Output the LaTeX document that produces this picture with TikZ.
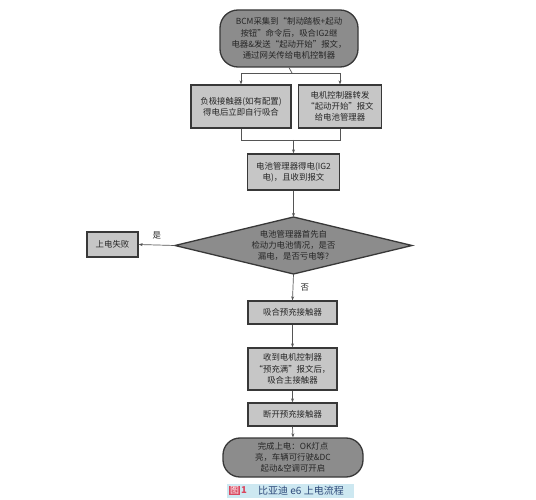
\documentclass[tikz,border=0pt]{standalone}
\usepackage{fontspec}
\setmainfont{Noto Sans CJK SC}
\usetikzlibrary{arrows.meta,calc}
\definecolor{darkfill}{HTML}{8C8C8C}
\definecolor{lightfill}{HTML}{C6C6C6}
\definecolor{edgecol}{HTML}{383838}
\definecolor{linecol}{HTML}{555555}
\definecolor{capbg}{HTML}{CDE8F1}
\definecolor{capred}{HTML}{D9475F}
\definecolor{captext}{HTML}{2E4A7A}
\begin{document}
\begin{tikzpicture}[x=1pt,y=-1pt,
  txt/.style={font=\fontsize{8.4}{11.2}\selectfont, align=center, text=black!85},
  roundbox/.style={txt, draw=edgecol, line width=1.3pt, fill=darkfill, rounded corners=18pt, inner sep=0pt},
  rectbox/.style={txt, draw=edgecol, line width=1.3pt, fill=lightfill, inner sep=0pt},
  conn/.style={draw=linecol, line width=0.7pt},
  arr/.style={conn, -{Stealth[length=4pt,width=3pt]}},
  lbl/.style={font=\fontsize{8.4}{10}\selectfont, text=black!85}
]
\useasboundingbox (0,0) rectangle (536,500);
\fill[white] (0,0) rectangle (536,500);

% nodes
\node[roundbox, minimum width=138pt, minimum height=57pt] (top) at (289,38.5)
  {BCM采集到“制动踏板+起动\\按钮”命令后，吸合IG2继\\电器\&发送“起动开始”报文，\\通过网关传给电机控制器};
\node[rectbox, minimum width=100pt, minimum height=43pt] (lb) at (241,106.5)
  {负极接触器(如有配置)\\得电后立即自行吸合};
\node[rectbox, minimum width=83pt, minimum height=43pt] (rb) at (340,106.5)
  {电机控制器转发\\“起动开始”报文\\给电池管理器};
\node[rectbox, minimum width=92pt, minimum height=36pt] (b3) at (293.5,172)
  {电池管理器得电(IG2\\电)，且收到报文};

% diamond
\coordinate (dT) at (293.5,217);
\coordinate (dB) at (293.5,274);
\coordinate (dL) at (175,245.5);
\coordinate (dR) at (412,245.5);
\draw[draw=edgecol, line width=1.3pt, fill=darkfill] (dT) -- (dR) -- (dB) -- (dL) -- cycle;
\node[txt] (dtext) at (293.5,245.5) {电池管理器首先自\\检动力电池情况，是否\\漏电，是否亏电等?};

\node[rectbox, minimum width=51pt, minimum height=25pt] (fail) at (112.5,244.5) {上电失败};
\node[rectbox, minimum width=89pt, minimum height=23pt] (b5) at (292.5,312.5) {吸合预充接触器};
\node[rectbox, minimum width=89pt, minimum height=42pt] (b6) at (292.5,369)
  {收到电机控制器\\“预充满”报文后，\\吸合主接触器};
\node[rectbox, minimum width=89pt, minimum height=23pt] (b7) at (292.5,414.5) {断开预充接触器};
\node[roundbox, minimum width=140pt, minimum height=39pt, rounded corners=17pt] (bot) at (293,457.5)
  {完成上电：OK灯点\\亮，车辆可行驶\&DC\\起动\&空调可开启};

% connectors
\coordinate (j1) at (292,73);
\draw[conn] (top.south) -- (j1);
\draw[arr] (j1) -| (lb.north);
\draw[arr] (j1) -| (rb.north);
\coordinate (j2) at (293.5,140);
\draw[conn] (lb.south) |- (j2);
\draw[conn] (rb.south) |- (j2);
\draw[arr] (j2) -- (b3.north);
\draw[arr] (b3.south) -- (dT);
\draw[arr] (dL) -- (fail.east) node[lbl, pos=0.5, above=2pt] {是};
\draw[arr] (dB) -- (b5.north) node[lbl, pos=0.5, right=4pt] {否};
\draw[arr] (b5.south) -- (b6.north);
\draw[arr] (b6.south) -- (b7.north);
\draw[arr] (b7.south) -- (bot.north);

% caption
\node[fill=capbg, minimum width=127pt, minimum height=14pt, inner sep=0pt] (cap) at (290.5,490.5) {};
\node[fill=capred, text=white, font=\fontsize{9}{9}\selectfont, inner sep=0.8pt, anchor=west] (capfig) at (229,490.5) {图};
\node[text=capred, font=\bfseries\fontsize{9.5}{10}\selectfont, inner sep=1pt, anchor=west] (capnum) at (capfig.east) {1};
\node[text=captext, font=\fontsize{10}{11}\selectfont, anchor=west, inner sep=0pt] (captxt) at (258,490.5) {比亚迪 e6 上电流程};
\end{tikzpicture}
\end{document}
